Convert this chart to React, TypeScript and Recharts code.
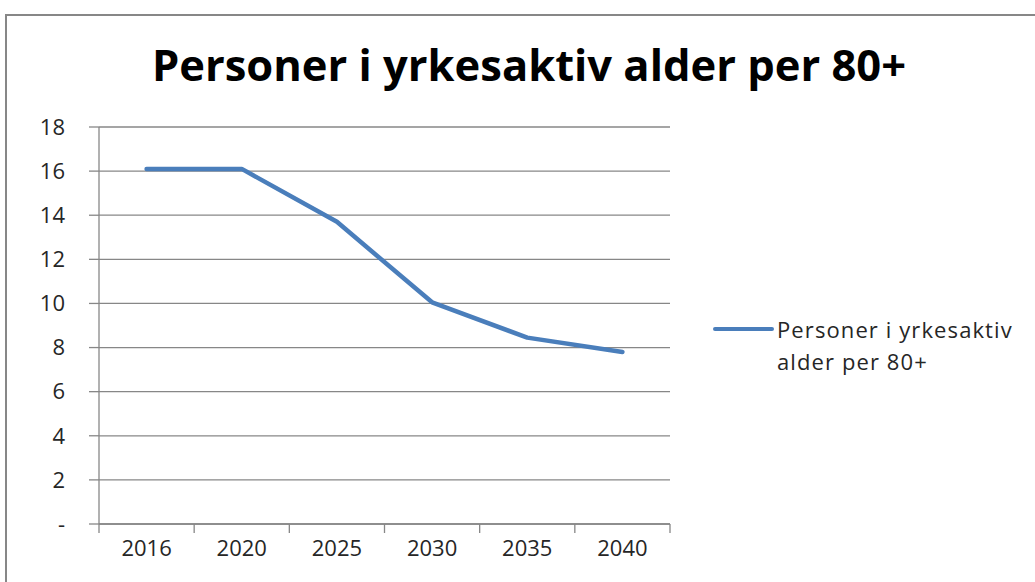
import React from "react";
import { LineChart, Line, XAxis, YAxis, CartesianGrid, Legend } from "recharts";

const years = ["2016", "2020", "2025", "2030", "2035", "2040"];
const values = [16.1, 16.1, 13.7, 10.05, 8.45, 7.8];
const yTicks = [0, 2, 4, 6, 8, 10, 12, 14, 16, 18];
const seriesName = "Personer i yrkesaktiv alder per 80+";
const title = "Personer i yrkesaktiv alder per 80+";

const data = years.map((y, i) => ({ year: y, v: values[i] }));

const FONT = "'Open Sans', Lato, sans-serif";
const GRAY = "#878787";
const TICK_MARGIN = 16;
const TICK_LEN = 9;

const LegendContent = () => (
  <div style={{ display: "flex", alignItems: "flex-start", fontFamily: FONT, fontSize: 22, color: "#262626", lineHeight: "32px" }}>
    <div style={{ width: 61, height: 4, background: "#4A7EBB", borderRadius: 2, marginTop: 14, marginRight: 3 }} />
    <div style={{ width: 252, letterSpacing: 1.1 }}>{seriesName}</div>
  </div>
);

const XTick = (props: any) => {
  const { x, y, width, visibleTicksCount, index, payload } = props;
  const bw = width / visibleTicksCount;
  const y0 = y - TICK_MARGIN;
  return (
    <g>
      <line x1={x - bw / 2} x2={x - bw / 2} y1={y0} y2={y0 + TICK_LEN} stroke={GRAY} strokeWidth={1.3} />
      {index === visibleTicksCount - 1 && (
        <line x1={x + bw / 2} x2={x + bw / 2} y1={y0} y2={y0 + TICK_LEN} stroke={GRAY} strokeWidth={1.3} />
      )}
      <text x={x} y={y} dy="0.71em" textAnchor="middle" fontFamily={FONT} fontSize={22} fill="#262626">
        {payload.value}
      </text>
    </g>
  );
};

export default function App() {
  return (
    <div style={{ position: "absolute", left: 0, top: 0, width: 1035, height: 582, overflow: "hidden", background: "#fff" }}>
      <div style={{ position: "absolute", left: 5, top: 14, width: 1100, height: 700, border: `2px solid ${GRAY}`, boxSizing: "border-box" }} />
      <div style={{ position: "absolute", left: 0, width: 1058, top: 37, textAlign: "center", fontFamily: FONT, fontWeight: 700, fontSize: 43.5, lineHeight: "56px", color: "#000" }}>
        {title}
      </div>
      <div style={{ position: "absolute", left: 0, top: 0 }}>
        <LineChart width={1035} height={582} data={data} margin={{ top: 127, right: 365, bottom: 0, left: 0 }}>
          <CartesianGrid horizontal vertical={false} stroke={GRAY} strokeWidth={1.3} />
          <XAxis
            dataKey="year"
            scale="band"
            stroke={GRAY}
            strokeWidth={1.3}
            tickLine={false}
            tickSize={0}
            height={58}
            tickMargin={TICK_MARGIN}
            tick={<XTick />}
          />
          <YAxis
            domain={[0, 18]}
            ticks={yTicks}
            width={99}
            tickSize={10}
            stroke={GRAY}
            strokeWidth={1.3}
            tickMargin={24}
            tickFormatter={(v: number) => (v === 0 ? "-" : String(v))}
            tick={{ fontFamily: FONT, fontSize: 22, fill: "#262626" }}
          />
          <Legend
            layout="horizontal"
            align="center"
            verticalAlign="middle"
            content={<LegendContent />}
            wrapperStyle={{ position: "absolute", left: 713, top: 313, width: 322 }}
          />
          <Line
            type="linear"
            dataKey="v"
            name={seriesName}
            stroke="#4A7EBB"
            strokeWidth={4.5}
            strokeLinecap="round"
            strokeLinejoin="round"
            dot={false}
            activeDot={false}
            isAnimationActive={false}
          />
        </LineChart>
      </div>
    </div>
  );
}
